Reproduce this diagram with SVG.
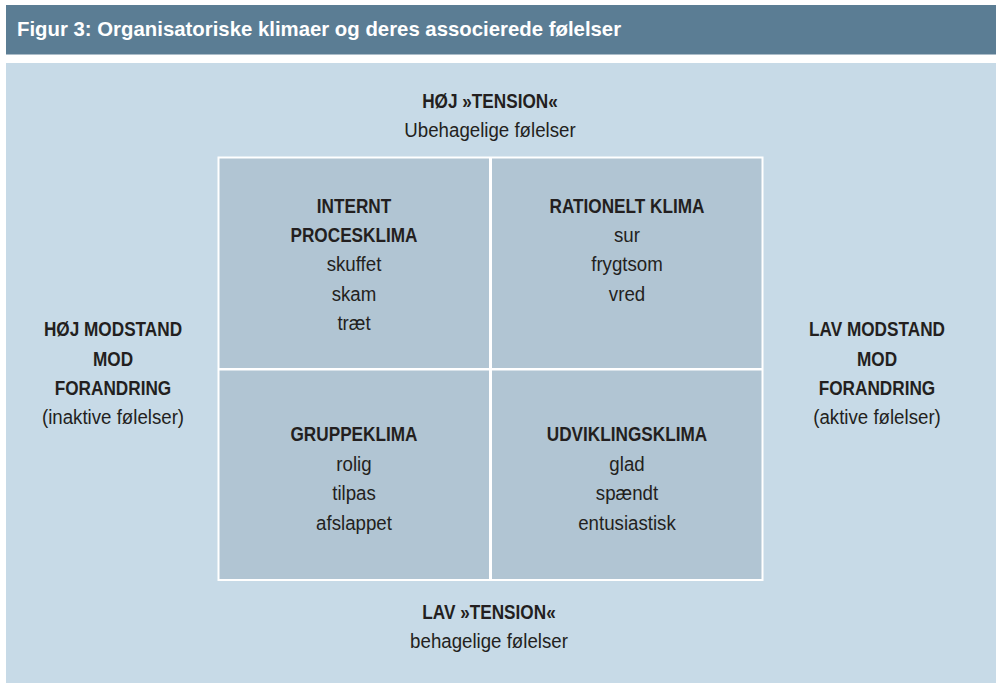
<svg xmlns="http://www.w3.org/2000/svg" width="997" height="683" viewBox="0 0 997 683">
<style>
.t{font-family:"Liberation Sans",Arial,sans-serif;fill:#231f20;text-anchor:middle}
.b{font-weight:bold;font-size:20px}
.r{font-size:21px}
.hd{font-family:"Liberation Sans",Arial,sans-serif;font-weight:bold;font-size:21px;fill:#ffffff}
.cell{fill:#b1c5d3}
</style>
<rect x="0" y="0" width="997" height="683" fill="#ffffff"/>
<g id="header">
<rect x="6" y="5" width="990" height="49.5" fill="#5b7d94"/>
<text class="hd" transform="translate(17,36) scale(0.97,1)">Figur 3: Organisatoriske klimaer og deres associerede følelser</text>
</g>
<g id="panel">
<rect x="6" y="63" width="990" height="620" fill="#c7dae7"/>
</g>
<g id="grid">
<rect x="217.5" y="156.5" width="546" height="424.5" fill="#ffffff"/>
</g>
<g id="top-label">
<text class="t b" transform="translate(490,108) scale(0.86,1)">HØJ »TENSION«</text>
<text class="t r" transform="translate(490,137) scale(0.89,1)">Ubehagelige følelser</text>
</g>
<g id="bottom-label">
<text class="t b" transform="translate(489,619) scale(0.86,1)">LAV »TENSION«</text>
<text class="t r" transform="translate(489,648) scale(0.89,1)">behagelige følelser</text>
</g>
<g id="left-label">
<text class="t b" transform="translate(113,336) scale(0.86,1)">HØJ MODSTAND</text>
<text class="t b" transform="translate(113,365.5) scale(0.86,1)">MOD</text>
<text class="t b" transform="translate(113,394.5) scale(0.86,1)">FORANDRING</text>
<text class="t r" transform="translate(113,424) scale(0.89,1)">(inaktive følelser)</text>
</g>
<g id="right-label">
<text class="t b" transform="translate(877,336) scale(0.86,1)">LAV MODSTAND</text>
<text class="t b" transform="translate(877,365.5) scale(0.86,1)">MOD</text>
<text class="t b" transform="translate(877,394.5) scale(0.86,1)">FORANDRING</text>
<text class="t r" transform="translate(877,424) scale(0.89,1)">(aktive følelser)</text>
</g>
<g id="internt-procesklima">
<rect class="cell" x="219.5" y="158.5" width="269.5" height="209.5"/>
<text class="t b" transform="translate(354,212.5) scale(0.86,1)">INTERNT</text>
<text class="t b" transform="translate(354,241.5) scale(0.86,1)">PROCESKLIMA</text>
<text class="t r" transform="translate(354,271) scale(0.89,1)">skuffet</text>
<text class="t r" transform="translate(354,300.5) scale(0.89,1)">skam</text>
<text class="t r" transform="translate(354,330) scale(0.89,1)">træt</text>
</g>
<g id="rationelt-klima">
<rect class="cell" x="492" y="158.5" width="269.5" height="209.5"/>
<text class="t b" transform="translate(627,212.5) scale(0.86,1)">RATIONELT KLIMA</text>
<text class="t r" transform="translate(627,242) scale(0.89,1)">sur</text>
<text class="t r" transform="translate(627,271) scale(0.89,1)">frygtsom</text>
<text class="t r" transform="translate(627,300.5) scale(0.89,1)">vred</text>
</g>
<g id="gruppeklima">
<rect class="cell" x="219.5" y="370.5" width="269.5" height="208.5"/>
<text class="t b" transform="translate(354,441) scale(0.86,1)">GRUPPEKLIMA</text>
<text class="t r" transform="translate(354,470.5) scale(0.89,1)">rolig</text>
<text class="t r" transform="translate(354,500) scale(0.89,1)">tilpas</text>
<text class="t r" transform="translate(354,529.5) scale(0.89,1)">afslappet</text>
</g>
<g id="udviklingsklima">
<rect class="cell" x="492" y="370.5" width="269.5" height="208.5"/>
<text class="t b" transform="translate(627,441) scale(0.86,1)">UDVIKLINGSKLIMA</text>
<text class="t r" transform="translate(627,470.5) scale(0.89,1)">glad</text>
<text class="t r" transform="translate(627,500) scale(0.89,1)">spændt</text>
<text class="t r" transform="translate(627,529.5) scale(0.89,1)">entusiastisk</text>
</g>
</svg>
